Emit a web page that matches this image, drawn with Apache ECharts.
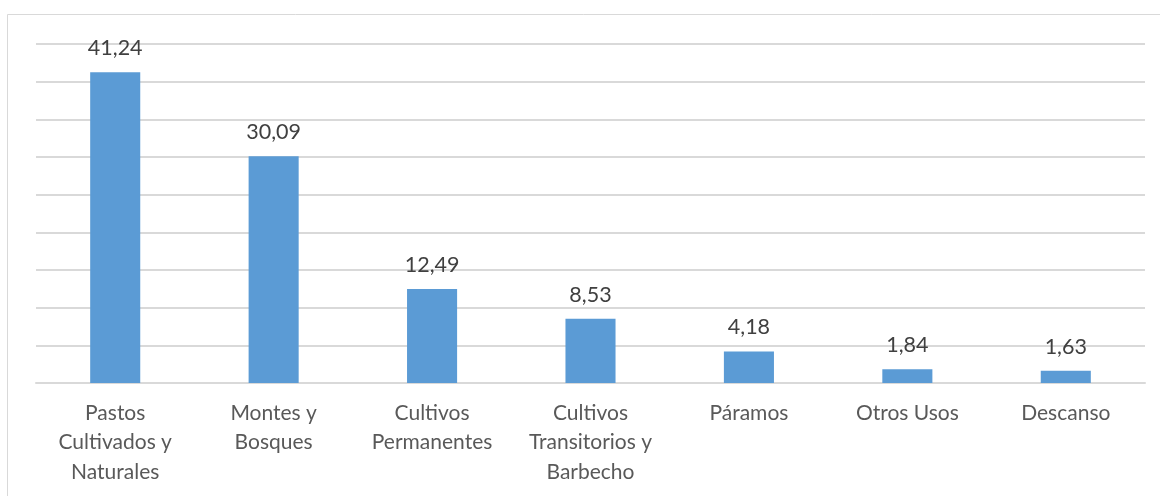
<!DOCTYPE html>
<html>
<head>
<meta charset="utf-8">
<script src="https://cdn.jsdelivr.net/npm/echarts@6/dist/echarts.min.js"></script>
<style>
html,body{margin:0;padding:0;background:#fff;}
#c{width:1160px;height:496px;}
</style>
</head>
<body>
<div id="c"></div>
<script>
const categories = [
  "Pastos\nCultivados y\nNaturales",
  "Montes y\nBosques",
  "Cultivos\nPermanentes",
  "Cultivos\nTransitorios y\nBarbecho",
  "Páramos",
  "Otros Usos",
  "Descanso"
];
const values = [41.24, 30.09, 12.49, 8.53, 4.18, 1.84, 1.63];

const chart = echarts.init(document.getElementById('c'), null, {renderer: 'canvas'});
chart.setOption({
  animation: false,
  backgroundColor: '#ffffff',
  graphic: [
    {type: 'line', shape: {x1: 7.5, y1: 14.5, x2: 1160, y2: 14.5}, style: {stroke: '#d9d9d9', lineWidth: 1}},
    {type: 'line', shape: {x1: 7.5, y1: 14.5, x2: 7.5, y2: 496}, style: {stroke: '#d9d9d9', lineWidth: 1}}
  ],
  grid: {left: 36, right: 15, top: 44, bottom: 113, containLabel: false},
  xAxis: {
    type: 'category',
    data: categories,
    axisTick: {show: false},
    axisLine: {show: true, lineStyle: {color: '#d9d9d9', width: 2}},
    axisLabel: {
      interval: 0,
      margin: 15,
      color: '#595959',
      fontFamily: 'Lato',
      fontSize: 21,
      lineHeight: 29.5
    }
  },
  yAxis: {
    type: 'value',
    min: 0,
    max: 45,
    interval: 5,
    axisLabel: {show: false},
    axisLine: {show: false},
    axisTick: {show: false},
    splitLine: {lineStyle: {color: '#d9d9d9', width: 2}}
  },
  series: [{
    type: 'bar',
    data: values,
    barWidth: '31.6%',
    itemStyle: {color: '#5b9bd5'},
    label: {
      show: true,
      position: 'top',
      distance: 13,
      color: '#404040',
      fontFamily: 'Lato',
      fontSize: 21.5,
      formatter: p => p.value.toFixed(2).replace('.', ',')
    }
  }]
});
</script>
</body>
</html>
